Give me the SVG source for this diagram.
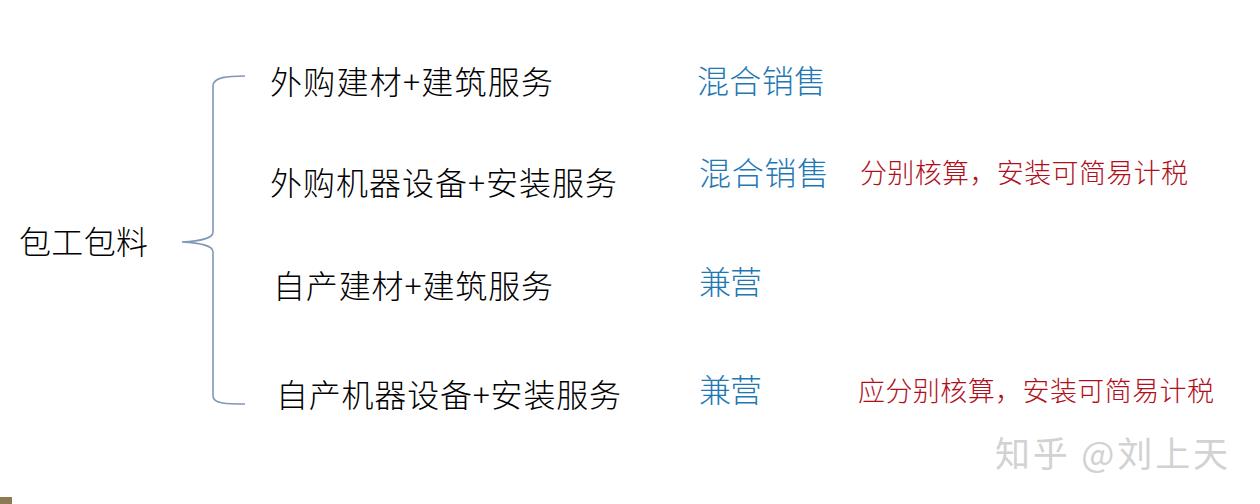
<svg xmlns="http://www.w3.org/2000/svg" width="1260" height="504" viewBox="0 0 1260 504">
<style>
.t{font-family:"Noto Sans CJK SC","Microsoft YaHei",sans-serif;font-size:32px;font-weight:300;fill:#000}
.b{font-family:"Noto Sans CJK SC",sans-serif;font-size:32px;font-weight:300;fill:#1E78B4}
.r{font-family:"Noto Sans CJK SC",sans-serif;font-size:27px;font-weight:300;fill:#B0101C}
.w{font-family:"Noto Sans CJK SC",sans-serif;font-size:35px;fill:#d2d2d2}
</style>
<rect width="1260" height="504" fill="#fff"/>
<g id="connectors">
<path d="M245,76 C228,76 213,77 213,86 L213,232 C213,239 200,241 182,242 C200,243 213,245 213,252 L213,396 C213,404 228,404 245,404" fill="none" stroke="#7F97B8" stroke-width="1.6"/>
</g>
<g id="root"><text class="t" x="19" y="254" textLength="129">包工包料</text></g>
<g id="n1"><text class="t" x="270" y="94" textLength="283">外购建材+建筑服务</text></g>
<g id="n2"><text class="t" x="270" y="195" textLength="347">外购机器设备+安装服务</text></g>
<g id="n3"><text class="t" x="273" y="298" textLength="280">自产建材+建筑服务</text></g>
<g id="n4"><text class="t" x="276" y="407" textLength="345">自产机器设备+安装服务</text></g>
<g id="l1"><text class="b" x="697" y="93" textLength="129">混合销售</text></g>
<g id="l2"><text class="b" x="699" y="185" textLength="130">混合销售</text><text class="r" x="860" y="183" textLength="328">分别核算，安装可简易计税</text></g>
<g id="l3"><text class="b" x="699" y="294" textLength="63">兼营</text></g>
<g id="l4"><text class="b" x="699" y="402" textLength="63">兼营</text><text class="r" x="858" y="401" textLength="356">应分别核算，安装可简易计税</text></g>
<g id="watermark"><text class="w" x="995" y="467" textLength="233">知乎 @刘上天</text></g>
<rect x="0" y="497" width="12" height="7" fill="#8C7A55"/>
</svg>
